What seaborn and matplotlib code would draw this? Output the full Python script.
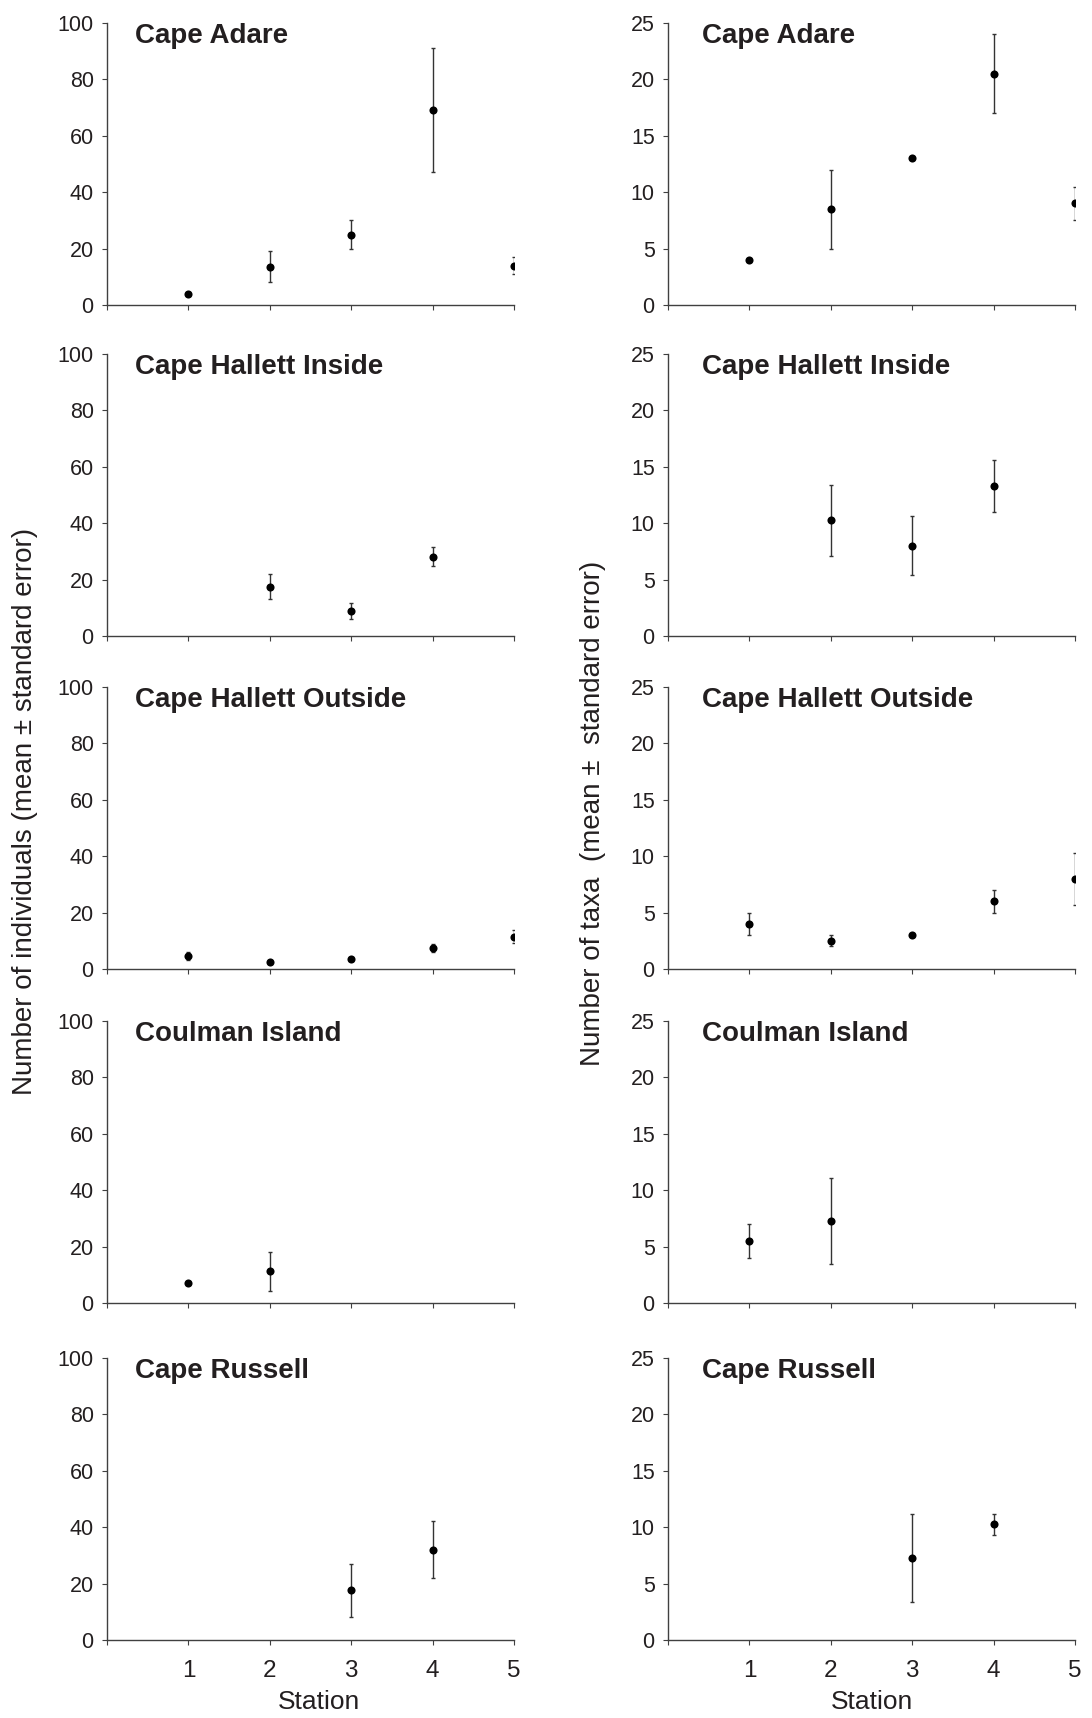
import numpy as np
import pandas as pd
import matplotlib
matplotlib.use("Agg")
import matplotlib.pyplot as plt
import seaborn as sns

nan = np.nan
stations = [1, 2, 3, 4, 5]
sites = ["Cape Adare", "Cape Hallett Inside", "Cape Hallett Outside",
         "Coulman Island", "Cape Russell"]

# Number of individuals (mean, lower, upper)
ind_adare_mean = [4, 13.5, 25, 69, 14]
ind_adare_low = [4, 8, 20, 47, 11]
ind_adare_high = [4, 19, 30, 91, 17]
ind_hin_mean = [nan, 17.5, 9, 28, nan]
ind_hin_low = [nan, 13, 6, 24.7, nan]
ind_hin_high = [nan, 22, 11.8, 31.6, nan]
ind_hout_mean = [4.6, 2.6, 3.5, 7.4, 11.3]
ind_hout_low = [3.2, 2.6, 3.5, 5.9, 9.1]
ind_hout_high = [6.0, 2.6, 3.5, 8.9, 13.8]
ind_coul_mean = [7, 11.2, nan, nan, nan]
ind_coul_low = [7, 4.4, nan, nan, nan]
ind_coul_high = [7, 18.2, nan, nan, nan]
ind_rus_mean = [nan, nan, 17.6, 32, nan]
ind_rus_low = [nan, nan, 8.2, 22, nan]
ind_rus_high = [nan, nan, 27.1, 42.1, nan]

# Number of taxa (mean, lower, upper)
tax_adare_mean = [4, 8.5, 13, 20.5, 9]
tax_adare_low = [4, 5, 13, 17, 7.5]
tax_adare_high = [4, 12, 13, 24, 10.5]
tax_hin_mean = [nan, 10.3, 8, 13.3, nan]
tax_hin_low = [nan, 7.05, 5.4, 11, nan]
tax_hin_high = [nan, 13.4, 10.6, 15.6, nan]
tax_hout_mean = [4, 2.5, 3, 6, 8]
tax_hout_low = [3, 2, 3, 5, 5.7]
tax_hout_high = [5, 3.05, 3, 7, 10.3]
tax_coul_mean = [5.5, 7.3, nan, nan, nan]
tax_coul_low = [4, 3.5, nan, nan, nan]
tax_coul_high = [7, 11.1, nan, nan, nan]
tax_rus_mean = [nan, nan, 7.3, 10.3, nan]
tax_rus_low = [nan, nan, 3.4, 9.35, nan]
tax_rus_high = [nan, nan, 11.15, 11.2, nan]

y_ticks_ind = [0, 20, 40, 60, 80, 100]
y_ticks_tax = [0, 5, 10, 15, 20, 25]
x_tick_labels = ["", "1", "2", "3", "4", "5"]

ind_series = [(ind_adare_mean, ind_adare_low, ind_adare_high),
              (ind_hin_mean, ind_hin_low, ind_hin_high),
              (ind_hout_mean, ind_hout_low, ind_hout_high),
              (ind_coul_mean, ind_coul_low, ind_coul_high),
              (ind_rus_mean, ind_rus_low, ind_rus_high)]
tax_series = [(tax_adare_mean, tax_adare_low, tax_adare_high),
              (tax_hin_mean, tax_hin_low, tax_hin_high),
              (tax_hout_mean, tax_hout_low, tax_hout_high),
              (tax_coul_mean, tax_coul_low, tax_coul_high),
              (tax_rus_mean, tax_rus_low, tax_rus_high)]

rows = []
for measure, series in (("ind", ind_series), ("tax", tax_series)):
    for site, (m, lo, hi) in zip(sites, series):
        for s, a, b, c in zip(stations, m, lo, hi):
            rows.append(dict(measure=measure, site=site, station=s, mean=a, low=b, high=c))
df = pd.DataFrame(rows)

sns.set_theme(style="white")
plt.rcParams["font.family"] = ["Liberation Sans", "DejaVu Sans"]
TXT = "#231f20"
SP = "#404040"

fig = plt.figure(figsize=(10.92, 17.18), dpi=100)
W, H = 1092, 1718
lefts = [107, 668]
bottoms = [305, 636, 969, 1303, 1640]
aw, ah = 407, 282

for ci, measure in enumerate(["ind", "tax"]):
    for ri, site in enumerate(sites):
        ax = fig.add_axes([lefts[ci] / W, 1 - bottoms[ri] / H, aw / W, ah / H])
        d = df[(df.measure == measure) & (df.site == site)].dropna(subset=["mean"])
        e = d[d.high > d.low]
        ax.errorbar(e.station, e["mean"],
                    yerr=[e["mean"] - e.low, e.high - e["mean"]],
                    fmt="none", ecolor="#333333", elinewidth=1.0, capsize=1.6,
                    capthick=1.0, zorder=2)
        sns.scatterplot(data=d, x="station", y="mean", ax=ax, color="black",
                        s=34, edgecolor="black", linewidth=0, zorder=3, legend=False)
        ax.set_xlim(0, 5)
        if measure == "ind":
            ax.set_ylim(0, 100)
            ax.set_yticks(y_ticks_ind)
        else:
            ax.set_ylim(0, 25)
            ax.set_yticks(y_ticks_tax)
        ax.set_xticks([0, 1, 2, 3, 4, 5])
        for sp in ["top", "right"]:
            ax.spines[sp].set_visible(False)
        for sp in ["left", "bottom"]:
            ax.spines[sp].set_color(SP)
            ax.spines[sp].set_linewidth(1.0)
            ax.spines[sp].set_zorder(5)
        ax.tick_params(axis="y", direction="out", length=3.6, width=0.8, color=SP,
                       labelsize=15.5, labelcolor=TXT, pad=6, left=True)
        ax.tick_params(axis="x", direction="out", length=3.6, width=0.8, color=SP,
                       labelsize=17.5, labelcolor=TXT, pad=11, bottom=True)
        if ri == len(sites) - 1:
            ax.set_xticklabels(x_tick_labels)
            ax.set_xlabel("Station", fontsize=19, color=TXT)
            if ci == 0:
                ax.xaxis.set_label_coords(0.522, -0.178)
            else:
                ax.xaxis.set_label_coords(0.5, -0.178)
            ax.xaxis.label.set_va("top")
        else:
            ax.set_xticklabels([])
            ax.set_xlabel("")
        ax.set_ylabel("")
        tx = 0.069 if ci == 0 else 0.084
        ax.text(tx, 0.929, site, transform=ax.transAxes, fontsize=20,
                fontweight="bold", color=TXT, va="baseline", ha="left")
        ax.set_facecolor("white")

fig.text(25 / W, 1 - 811 / H, "Number of individuals (mean \u00b1 standard error)",
         rotation=90, va="center", ha="center", fontsize=20, color=TXT)
fig.text(593 / W, 1 - 813 / H, "Number of taxa  (mean \u00b1  standard error)",
         rotation=90, va="center", ha="center", fontsize=20, color=TXT)

fig.savefig("out.png", dpi=100, facecolor="white")
